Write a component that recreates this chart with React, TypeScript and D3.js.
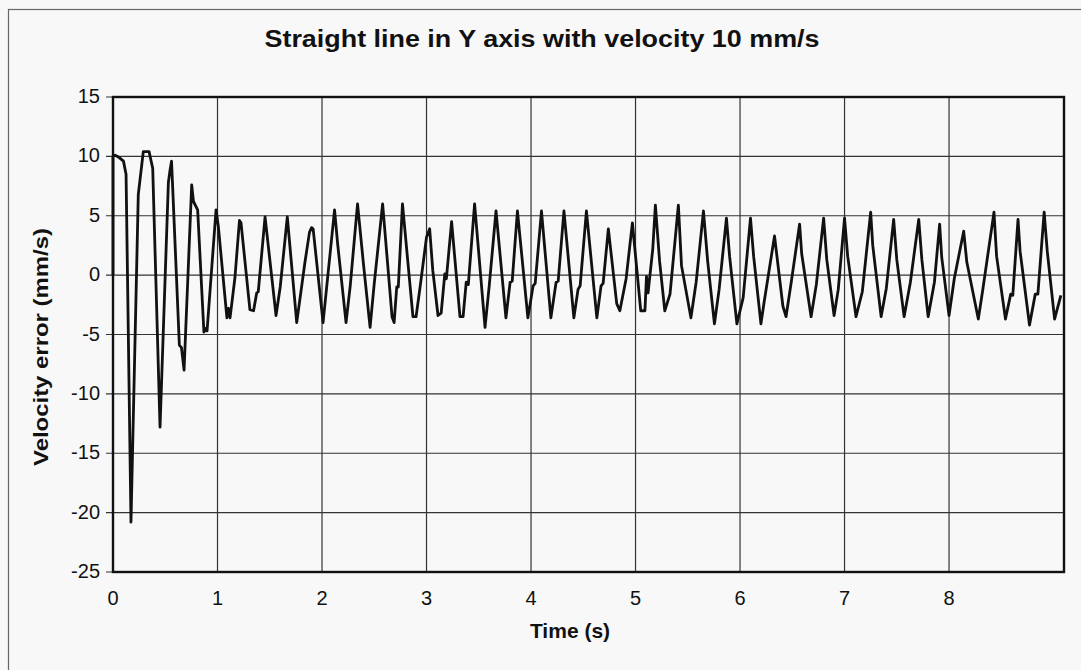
import * as d3 from "d3";
import { useEffect, useRef } from "react";

// time (s) and velocity error (mm/s)
const timeS = [
  0, 0.0, 0.02, 0.06, 0.1, 0.125, 0.172, 0.242, 0.29, 0.345, 0.38, 0.45, 0.53, 0.545, 0.56, 0.57,
  0.635, 0.655, 0.68, 0.753, 0.77, 0.81, 0.87, 0.885, 0.9, 0.986, 1.008, 1.09, 1.105, 1.12, 1.167,
  1.21, 1.225, 1.31, 1.345, 1.375, 1.39, 1.455, 1.56, 1.6, 1.668, 1.758, 1.837, 1.88, 1.9, 1.915,
  2.01, 2.12, 2.15, 2.23, 2.27, 2.34, 2.397, 2.46, 2.5, 2.58, 2.67, 2.69, 2.715, 2.73, 2.77, 2.87,
  2.9, 2.94, 3.0, 3.03, 3.06, 3.11, 3.14, 3.175, 3.19, 3.24, 3.32, 3.35, 3.38, 3.4, 3.46, 3.56,
  3.6, 3.665, 3.76, 3.8, 3.82, 3.87, 3.97, 4.02, 4.04, 4.1, 4.19, 4.24, 4.26, 4.315, 4.41, 4.45,
  4.47, 4.53, 4.63, 4.67, 4.69, 4.74, 4.82, 4.85, 4.91, 4.97, 5.05, 5.09, 5.105, 5.12, 5.165, 5.19,
  5.23, 5.28, 5.33, 5.345, 5.41, 5.44, 5.53, 5.58, 5.65, 5.69, 5.755, 5.8, 5.87, 5.9, 5.97, 6.03,
  6.1, 6.13, 6.2, 6.23, 6.33, 6.41, 6.44, 6.49, 6.57, 6.59, 6.68, 6.73, 6.8, 6.83, 6.9, 6.94, 7.0,
  7.03, 7.11, 7.17, 7.25, 7.27, 7.35, 7.4, 7.47, 7.5, 7.57, 7.63, 7.71, 7.74, 7.8, 7.86, 7.91, 7.93,
  8.0, 8.05, 8.14, 8.17, 8.28, 8.32, 8.43, 8.455, 8.54, 8.59, 8.61, 8.66, 8.68, 8.77, 8.825, 8.85,
  8.91, 8.94, 9.01, 9.07,
];
const velocityErr = [
  0, 10.0, 10.1, 9.9, 9.6, 8.5, -20.8, 6.8, 10.4, 10.4, 9.0, -12.8, 7.8, 8.8, 9.6, 7.6,
  -5.9, -6.1, -8.0, 7.6, 6.2, 5.5, -4.8, -4.5, -4.7, 5.5, 4.1, -3.6, -2.8, -3.6, -0.2,
  4.6, 4.4, -2.9, -3.0, -1.5, -1.4, 4.9, -3.4, -1.0, 4.9, -4.0, 1.1, 3.6, 4.0, 3.9,
  -4.0, 5.5, 2.6, -4.0, -0.9, 6.0, 0.9, -4.4, -0.7, 6.0, -3.5, -4.0, -1.0, -1.0, 6.0, -3.5,
  -3.5, -0.9, 3.2, 3.9, 0.4, -3.4, -3.2, 0.1, -0.3, 4.5, -3.5, -3.5, -0.6, -0.8, 6.0, -4.4,
  -0.9, 5.4, -3.6, -0.6, -0.5, 5.4, -3.6, -0.9, -0.7, 5.4, -3.6, -0.6, -0.5, 5.4, -3.6, -1.2,
  -0.9, 5.4, -3.6, -0.9, -0.7, 3.9, -2.4, -3.0, -0.3, 4.4, -3.0, -3.0, -0.1, -1.5, 2.2, 5.9,
  1.2, -3.0, -1.6, -0.2, 5.9, 0.8, -3.6, -0.6, 5.4, 1.2, -4.1, -1.2, 4.8, 1.6, -4.1, -1.9,
  4.8, 1.6, -4.1, -2.3, 3.3, -2.6, -3.5, -0.6, 4.3, 1.8, -3.5, -0.8, 4.8, 1.3, -3.4, -1.2, 4.8,
  1.6, -3.5, -1.4, 5.3, 2.5, -3.5, -1.1, 4.7, 1.3, -3.5, -0.6, 4.7, 1.3, -3.5, -0.6, 4.3, 1.5,
  -3.4, -0.3, 3.7, 1.1, -3.7, -1.4, 5.3, 1.6, -3.7, -1.6, -1.7, 4.7, 2.0, -4.2, -1.6, -1.6,
  5.3, 2.0, -3.7, -1.7,
];

const xTicks = [0, 1, 2, 3, 4, 5, 6, 7, 8];
const yTicks = [15, 10, 5, 0, -5, -10, -15, -20, -25];

export default function App() {
  const svgRef = useRef<SVGSVGElement>(null);

  useEffect(() => {
    const svg = d3.select(svgRef.current);
    svg.selectAll("*").remove();

    const width = 1081;
    const height = 670;
    const margin = { top: 97, right: 17, bottom: 98, left: 113 };
    const font = "'Liberation Sans', Arial, sans-serif";

    svg.attr("viewBox", `0 0 ${width} ${height}`);

    svg.append("rect")
      .attr("width", width)
      .attr("height", height)
      .attr("fill", "#f8f8f8");

    // outer frame of the scanned figure
    svg.append("rect")
      .attr("x", 8.5)
      .attr("y", 9.5)
      .attr("width", width + 20)
      .attr("height", height + 20)
      .attr("fill", "none")
      .attr("stroke", "#666")
      .attr("stroke-width", 1.2);

    const x = d3.scaleLinear()
      .domain([0, 9.1])
      .range([margin.left, width - margin.right]);

    const y = d3.scaleLinear()
      .domain([-25, 15])
      .range([height - margin.bottom, margin.top]);

    // Grid
    svg.append("g")
      .selectAll("line.h")
      .data(yTicks)
      .enter()
      .append("line")
      .attr("x1", margin.left - 7)
      .attr("x2", width - margin.right)
      .attr("y1", d => y(d))
      .attr("y2", d => y(d))
      .attr("stroke", "#333")
      .attr("stroke-width", 1.2);

    svg.append("g")
      .selectAll("line.v")
      .data(xTicks.slice(1))
      .enter()
      .append("line")
      .attr("x1", d => x(d))
      .attr("x2", d => x(d))
      .attr("y1", margin.top)
      .attr("y2", height - margin.bottom)
      .attr("stroke", "#333")
      .attr("stroke-width", 1.2);

    // Plot border
    svg.append("rect")
      .attr("x", margin.left)
      .attr("y", margin.top)
      .attr("width", width - margin.left - margin.right)
      .attr("height", height - margin.top - margin.bottom)
      .attr("fill", "none")
      .attr("stroke", "#111")
      .attr("stroke-width", 2.4);

    // Tick labels
    svg.append("g")
      .selectAll("text")
      .data(yTicks)
      .enter()
      .append("text")
      .attr("x", margin.left - 13)
      .attr("y", d => y(d) + 6)
      .attr("text-anchor", "end")
      .attr("font-family", font)
      .attr("font-size", "20px")
      .attr("fill", "#111")
      .text(d => d);

    svg.append("g")
      .selectAll("text")
      .data(xTicks)
      .enter()
      .append("text")
      .attr("x", d => x(d))
      .attr("y", height - margin.bottom + 33)
      .attr("text-anchor", "middle")
      .attr("font-family", font)
      .attr("font-size", "20px")
      .attr("fill", "#111")
      .text(d => d);

    // Series
    const points = timeS.map((t, i) => [t, velocityErr[i]] as [number, number]);
    const line = d3.line<[number, number]>()
      .x(d => x(d[0]))
      .y(d => y(d[1]));

    svg.append("path")
      .datum(points)
      .attr("fill", "none")
      .attr("stroke", "#111")
      .attr("stroke-width", 2.8)
      .attr("stroke-linejoin", "round")
      .attr("d", line);

    // Titles
    svg.append("text")
      .attr("x", 542)
      .attr("y", 47)
      .attr("text-anchor", "middle")
      .attr("font-family", font)
      .attr("font-weight", "bold")
      .attr("font-size", "23px")
      .attr("textLength", 555)
      .attr("lengthAdjust", "spacingAndGlyphs")
      .attr("fill", "#111")
      .text("Straight line in Y axis with velocity 10 mm/s");

    svg.append("text")
      .attr("x", 570)
      .attr("y", 638)
      .attr("text-anchor", "middle")
      .attr("font-family", font)
      .attr("font-weight", "bold")
      .attr("font-size", "21px")
      .attr("fill", "#111")
      .text("Time (s)");

    svg.append("text")
      .attr("transform", `translate(48, 347) rotate(-90)`)
      .attr("text-anchor", "middle")
      .attr("font-family", font)
      .attr("font-weight", "bold")
      .attr("font-size", "21px")
      .attr("textLength", 238)
      .attr("lengthAdjust", "spacingAndGlyphs")
      .attr("fill", "#111")
      .text("Velocity error (mm/s)");
  }, []);

  return (
    <svg
      ref={svgRef}
      width={1081}
      height={670}
      style={{ position: "absolute", left: 0, top: 0, display: "block" }}
    />
  );
}
